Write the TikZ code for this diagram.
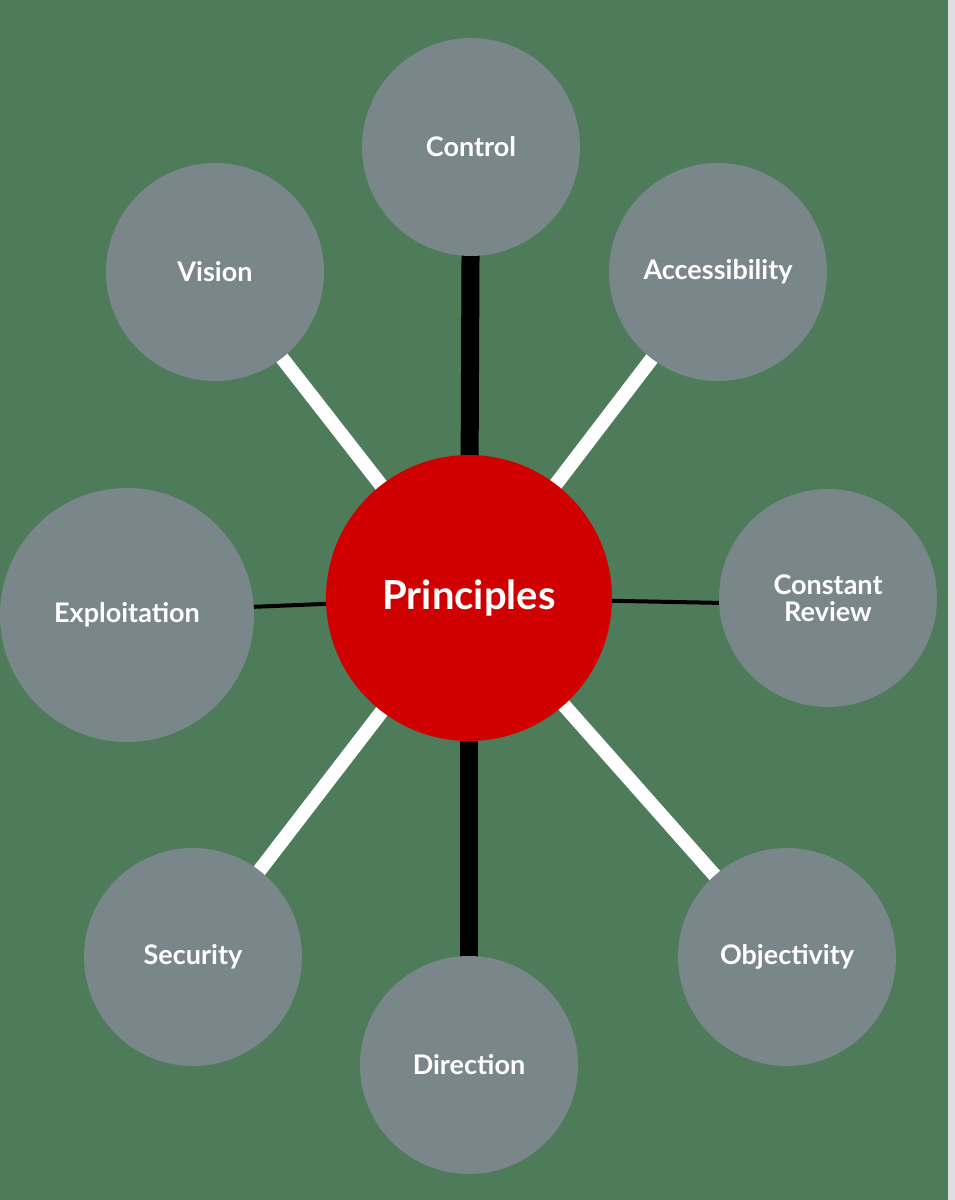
\documentclass[tikz,border=0pt]{standalone}
\usepackage{fontspec}
\setmainfont{Lato}
\definecolor{bg}{HTML}{4E7B5A}
\definecolor{cg}{HTML}{7A878A}
\definecolor{pr}{HTML}{D00000}
\begin{document}
\begin{tikzpicture}[x=1pt,y=-1pt,
  sat/.style={circle,fill=cg,minimum size=218pt,inner sep=0pt,text=white,font=\bfseries\fontsize{27}{31}\selectfont,align=center},
  blk/.style={line width=18pt,black},
  wht/.style={line width=14pt,white},
  thn/.style={line width=4pt,black}]
\fill[bg] (0,0) rectangle (955,1200);
\fill[gray!25] (948,0) rectangle (955,1200);
\useasboundingbox (0,0) rectangle (955,1200);
\coordinate (p) at (469,598);
\coordinate (cC) at (471,147);
\coordinate (cV) at (215,272);
\coordinate (cA) at (718,272);
\coordinate (cE) at (127,612);
\coordinate (cR) at (828,605);
\coordinate (cS) at (193,957);
\coordinate (cD) at (469,1065);
\coordinate (cO) at (787,957);
\draw[blk] (p) -- (cC);
\draw[blk] (p) -- (cD);
\draw[wht] (p) -- (cV);
\draw[wht] (p) -- (cA);
\draw[wht] (p) -- (cS);
\draw[wht] (p) -- (cO);
\draw[thn] (p) -- (cE);
\draw[thn] (p) -- (cR);
\node[sat] (C) at (cC) {Control};
\node[sat] (V) at (cV) {Vision};
\node[sat] (A) at (cA) {Accessibility};
\node[sat,minimum size=254pt] (E) at (127,615) {Exploitation};
\node[sat] (R) at (828,598) {Constant\\[-4pt]Review};
\node[sat] (S) at (cS) {Security};
\node[sat] (D) at (cD) {Direction};
\node[sat] (O) at (cO) {Objectivity};
\node[circle,fill=pr,minimum size=286pt,inner sep=0pt,text=white,font=\bfseries\fontsize{40}{46}\selectfont] (P) at (p) {Principles};
\end{tikzpicture}
\end{document}
